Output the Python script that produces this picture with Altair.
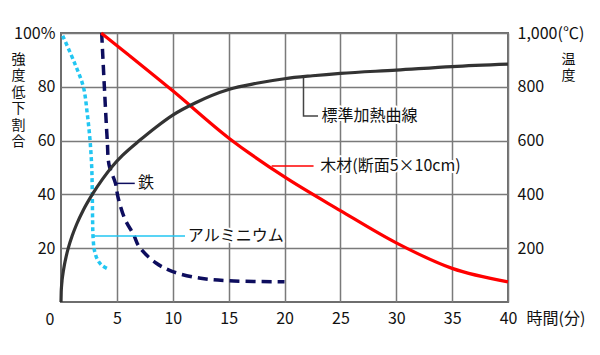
import altair as alt
import pandas as pd

FONT = "Noto Sans CJK JP"

# 標準加熱曲線 (temperature, ℃)
time_std = [0, 0.02, 0.05, 0.1, 0.2, 0.3, 0.45, 0.65, 1.0, 1.4, 2.0, 2.8, 3.7, 4.6, 5.5, 7.1, 8.5, 10, 12, 15, 17.5, 20, 22.5, 25, 30, 35, 40]
temp_std = [0, 38, 59, 82, 112, 137, 167, 200, 246, 289, 342, 400, 456, 505, 545, 603, 650, 695, 740, 790, 813, 830, 841, 850, 862, 875, 884]

# 木材 (強度低下割合 %)
time_wood = [3.6, 6, 10, 15, 20, 25, 30, 35, 40]
val_wood = [100, 92, 78.5, 61, 46.5, 34, 22, 12.5, 7.5]

# 鉄
time_iron = [3.64, 3.88, 4.14, 4.3, 4.88, 5.1, 5.7, 6.5, 7.0, 8.5, 10, 12.5, 15, 20]
val_iron = [100, 80, 60, 51, 44, 39, 31, 25, 20.5, 14.5, 11.3, 8.8, 7.9, 7.5]

# アルミニウム
time_alu = [0.15, 1.2, 2.0, 2.35, 2.6, 2.75, 2.8, 2.83, 2.87, 3.0, 3.3, 3.7, 4.2]
val_alu = [99, 89, 80, 70, 60, 50, 40, 30, 24, 19, 15.5, 13.5, 12.3]

x_ticks = [5, 10, 15, 20, 25, 30, 35, 40]
left_ticks = [20, 40, 60, 80, 100]
right_ticks = [200, 400, 600, 800, 1000]

# labels with leader lines
label_text = ["標準加熱曲線", "木材(断面5×10cm)", "鉄", "アルミニウム"]
label_t = [23.3, 23.2, 6.9, 11.35]
label_v = [69.1, 50.6, 44.1, 24.5]

leaders = {
    "std": ([21.7, 21.7, 23.0], [83.5, 69.1, 69.1], "#444444"),
    "wood": ([18.85, 22.6], [50.6, 50.6], "#ff0000"),
    "iron": ([4.83, 6.6], [44.1, 44.1], "#0d0d5e"),
    "alu": ([2.9, 11.1], [24.5, 24.5], "#22c6f2"),
}

x_enc = alt.X(
    "t:Q",
    scale=alt.Scale(domain=[0, 40], nice=False, zero=False),
    axis=alt.Axis(
        values=x_ticks, grid=True, gridColor="#7a7a7a", gridWidth=1.5,
        ticks=False, domain=False, labelFont=FONT, labelFontSize=16,
        labelColor="#111", labelPadding=8, labelFlush=False,
        title="時間(分)", titleFont=FONT, titleFontSize=16, titleFontWeight="normal",
        titleColor="#111", titleAlign="left", titleBaseline="top",
        titleX=465, titleY=8, titleAngle=0,
    ),
)

left_axis = alt.Axis(
    values=left_ticks, grid=True, gridColor="#7a7a7a", gridWidth=1.5,
    ticks=False, domain=False, labelFont=FONT, labelFontSize=16,
    labelColor="#111", labelPadding=6, labelFlush=False,
    labelExpr="datum.value == 100 ? '100%' : datum.label",
    title=["強", "度", "低", "下", "割", "合"], titleFont=FONT, titleFontSize=14,
    titleFontWeight="normal", titleColor="#111", titleAngle=0,
    titleAlign="center", titleBaseline="top", titleX=-43, titleY=19,
    titleLineHeight=16.5,
)
y_left = alt.Y("v:Q", scale=alt.Scale(domain=[0, 100], nice=False), axis=left_axis)


def series_df(ts, vs):
    return pd.DataFrame({"t": ts, "v": vs, "i": list(range(len(ts)))})


wood = alt.Chart(series_df(time_wood, val_wood)).mark_line(
    color="#ff0000", strokeWidth=3.2, interpolate="monotone"
).encode(x=x_enc, y=y_left, order="i:Q")

iron = alt.Chart(series_df(time_iron, val_iron)).mark_line(
    color="#0d0d5e", strokeWidth=3.5, strokeDash=[10, 6], interpolate="catmull-rom"
).encode(x=x_enc, y=y_left, order="i:Q")

alu = alt.Chart(series_df(time_alu, val_alu)).mark_line(
    color="#22c6f2", strokeWidth=3.5, strokeDash=[4, 3], interpolate="catmull-rom"
).encode(x=x_enc, y=y_left, order="i:Q")

leader_layers = []
for key, (ts, vs, col) in leaders.items():
    leader_layers.append(
        alt.Chart(series_df(ts, vs)).mark_line(color=col, strokeWidth=1.5)
        .encode(x=x_enc, y=y_left, order="i:Q")
    )

lab_df = pd.DataFrame({"t": label_t, "v": label_v, "text": label_text})
halo = alt.Chart(lab_df).mark_text(
    font=FONT, fontSize=16, align="left", baseline="middle",
    stroke="white", strokeWidth=4, strokeJoin="round", color="white"
).encode(x=x_enc, y=y_left, text="text:N")
labels = alt.Chart(lab_df).mark_text(
    font=FONT, fontSize=16, align="left", baseline="middle", color="#111"
).encode(x=x_enc, y=y_left, text="text:N")

zero_lab = alt.Chart(pd.DataFrame({"s": ["0"]})).mark_text(
    font=FONT, fontSize=16, align="center", baseline="middle", color="#111"
).encode(x=alt.value(-11), y=alt.value(287), text="s:N")

left_layer = alt.layer(alu, iron, wood, *leader_layers, halo, labels, zero_lab)

right_axis = alt.Axis(
    orient="right", values=right_ticks, grid=False, ticks=False, domain=False,
    labelFont=FONT, labelFontSize=16, labelColor="#111", labelPadding=9,
    labelFlush=False,
    labelExpr="datum.value == 1000 ? '1,000(℃)' : datum.label",
    title=["温", "度"], titleFont=FONT, titleFontSize=14, titleFontWeight="normal",
    titleColor="#111", titleAngle=0, titleAlign="center", titleBaseline="top",
    titleX=60, titleY=19, titleLineHeight=16.5,
)
std = alt.Chart(series_df(time_std, temp_std)).mark_line(
    color="#333333", strokeWidth=3.2, interpolate="monotone"
).encode(
    x=x_enc,
    y=alt.Y("v:Q", scale=alt.Scale(domain=[0, 1000], nice=False), axis=right_axis),
    order="i:Q",
)

chart = alt.layer(left_layer, std).resolve_scale(y="independent").properties(
    width=447, height=269,
    autosize=alt.AutoSizeParams(type="none"),
    padding={"left": 53, "top": 25, "right": 84, "bottom": 45},
).configure_view(stroke="#6e6e6e", strokeWidth=2)

chart.save("out.html", embed_options={"renderer": "svg", "actions": False})
